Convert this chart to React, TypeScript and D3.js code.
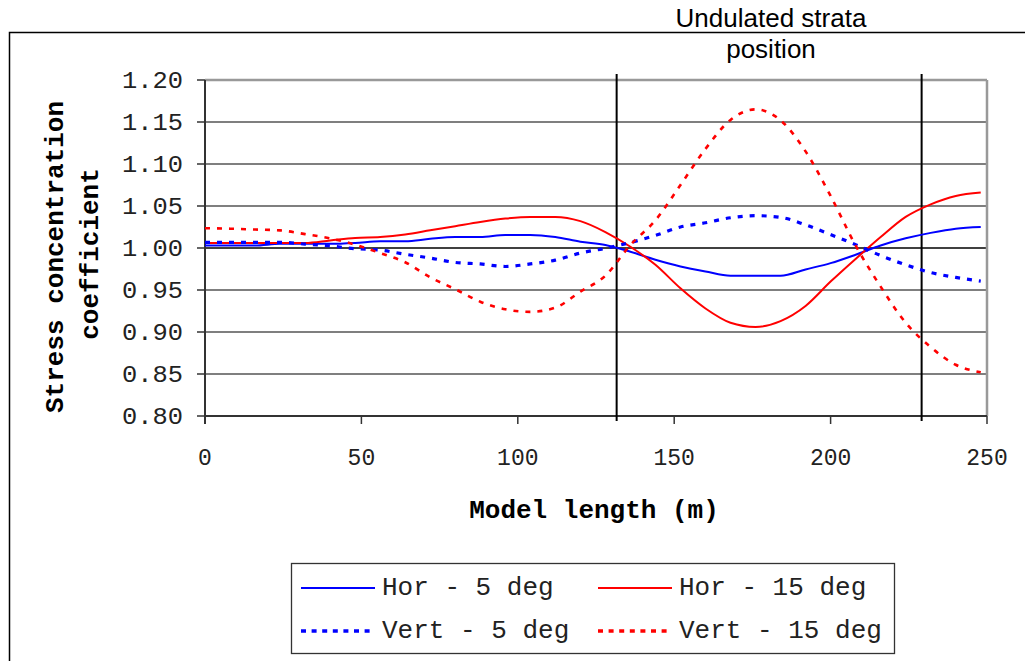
import React from "react";
import * as d3 from "d3";

const xValues = [0, 8, 16, 24, 32, 40, 48, 56, 64, 72, 80, 88, 96, 104, 112, 120, 128, 136, 144, 152, 160, 168, 176, 184, 192, 200, 208, 216, 224, 232, 240, 248];

const hor5 = [1.003, 1.003, 1.003, 1.005, 1.005, 1.005, 1.006, 1.008, 1.008, 1.011, 1.013, 1.013, 1.0155, 1.0155, 1.013, 1.0075, 1.0035, 0.9955, 0.986, 0.978, 0.972, 0.967, 0.967, 0.967, 0.9745, 0.982, 0.992, 1.003, 1.0115, 1.018, 1.023, 1.025];
const hor15 = [1.006, 1.006, 1.006, 1.006, 1.006, 1.009, 1.012, 1.013, 1.016, 1.021, 1.026, 1.031, 1.035, 1.037, 1.037, 1.032, 1.019, 1.0015, 0.98, 0.952, 0.928, 0.911, 0.906, 0.913, 0.931, 0.96, 0.987, 1.013, 1.037, 1.052, 1.062, 1.066];
const vert5 = [1.0067, 1.0067, 1.0067, 1.0067, 1.0047, 1.0024, 0.9992, 0.9975, 0.9925, 0.988, 0.9828, 0.981, 0.978, 0.981, 0.9855, 0.994, 0.9996, 1.0065, 1.015, 1.025, 1.03, 1.036, 1.0385, 1.0365, 1.0275, 1.016, 1.004, 0.991, 0.98, 0.9708, 0.965, 0.9605];
const vert15 = [1.0235, 1.023, 1.022, 1.021, 1.0165, 1.0115, 1.004, 0.994, 0.983, 0.965, 0.951, 0.936, 0.927, 0.924, 0.929, 0.948, 0.967, 1.0036, 1.033, 1.075, 1.118, 1.1525, 1.165, 1.152, 1.115, 1.062, 1.003, 0.954, 0.911, 0.882, 0.861, 0.852];

const xTicks = [0, 50, 100, 150, 200, 250];
const yTicks = [0.8, 0.85, 0.9, 0.95, 1.0, 1.05, 1.1, 1.15, 1.2];
const strataPositions = [131.6, 229.1];

const seriesNames = ["Hor - 5 deg", "Hor - 15 deg", "Vert - 5 deg", "Vert - 15 deg"];
const seriesColors = ["#0000ff", "#ff0000", "#0000ff", "#ff0000"];
const seriesDashed = [false, false, true, true];
const seriesWidths = [2, 2, 3.2, 2.6];
const seriesValues = [hor5, hor15, vert5, vert15];

const mono = "'Liberation Mono', 'Courier New', monospace";

export default function App() {
  const left = 205, right = 987, top = 80, bottom = 416;
  const x = d3.scaleLinear().domain([0, 250]).range([left, right]);
  const y = d3.scaleLinear().domain([0.8, 1.2]).range([bottom, top]);

  const line = d3
    .line<[number, number]>()
    .x((d) => x(d[0]))
    .y((d) => y(d[1]))
    .curve(d3.curveMonotoneX);

  const legendPos = [
    { lx: 301, ly: 588 },
    { lx: 598, ly: 588 },
    { lx: 301, ly: 631 },
    { lx: 598, ly: 631 },
  ];

  return (
    <svg
      width={1025}
      height={661}
      style={{ position: "fixed", left: 0, top: 0, background: "#fff" }}
    >
      <rect x={0} y={0} width={1025} height={661} fill="#fff" />
      {/* outer frame */}
      <rect x={9.5} y={32.5} width={1040} height={700} fill="none" stroke="#000" strokeWidth={1.5} />

      {/* title annotation */}
      <text x={771} y={27} textAnchor="middle" fontFamily="'Liberation Sans', Arial, sans-serif" fontSize={26} fill="#000">
        Undulated strata
      </text>
      <text x={771} y={58} textAnchor="middle" fontFamily="'Liberation Sans', Arial, sans-serif" fontSize={26} fill="#000">
        position
      </text>

      {/* grid lines */}
      {yTicks.map((t) => (
        <line
          key={"g" + t}
          x1={left}
          x2={right}
          y1={y(t)}
          y2={y(t)}
          stroke={t === 1.0 ? "#000" : t === 1.2 ? "#999" : "#555"}
          strokeWidth={t === 1.0 ? 1.3 : t === 1.2 ? 2.5 : 1.5}
        />
      ))}
      {/* right border */}
      <line x1={right} x2={right} y1={top} y2={bottom} stroke="#999" strokeWidth={2.5} />

      {/* axes */}
      <line x1={left} x2={left} y1={top} y2={bottom + 8} stroke="#333" strokeWidth={2} />
      <line x1={left} x2={right} y1={bottom} y2={bottom} stroke="#333" strokeWidth={2} />

      {/* y ticks */}
      {yTicks.map((t) => (
        <g key={"yt" + t}>
          <line x1={left - 8} x2={left} y1={y(t)} y2={y(t)} stroke="#333" strokeWidth={1.5} />
          <text
            x={183}
            y={y(t) + 8}
            textAnchor="end"
            fontFamily={mono}
            fontSize={24}
            fill="#222"
            textLength={61}
            lengthAdjust="spacingAndGlyphs"
          >
            {t.toFixed(2)}
          </text>
        </g>
      ))}

      {/* x ticks */}
      {xTicks.map((t) => (
        <g key={"xt" + t}>
          <line x1={x(t)} x2={x(t)} y1={bottom} y2={bottom + 8} stroke="#333" strokeWidth={1.5} />
          <text
            x={x(t)}
            y={465}
            textAnchor="middle"
            fontFamily={mono}
            fontSize={23}
            fill="#222"
          >
            {String(t)}
          </text>
        </g>
      ))}

      {/* strata position lines */}
      {strataPositions.map((p) => (
        <line key={"s" + p} x1={x(p)} x2={x(p)} y1={74} y2={421} stroke="#000" strokeWidth={2} />
      ))}

      {/* series */}
      {seriesValues.map((vals, i) => {
        const pts: [number, number][] = xValues.map((xv, j) => [xv, vals[j]]);
        return (
          <path
            key={"p" + i}
            d={line(pts) || ""}
            fill="none"
            stroke={seriesColors[i]}
            strokeWidth={seriesWidths[i]}
            strokeDasharray={seriesDashed[i] ? "5 7" : undefined}
          />
        );
      })}

      {/* axis titles */}
      <text
        x={594}
        y={518}
        textAnchor="middle"
        fontFamily={mono}
        fontWeight="bold"
        fontSize={26}
        fill="#000"
      >
        Model length (m)
      </text>
      <text
        transform="translate(63,257) rotate(-90)"
        textAnchor="middle"
        fontFamily={mono}
        fontWeight="bold"
        fontSize={26}
        fill="#000"
      >
        Stress concentration
      </text>
      <text
        transform="translate(98,254) rotate(-90)"
        textAnchor="middle"
        fontFamily={mono}
        fontWeight="bold"
        fontSize={26}
        fill="#000"
      >
        coefficient
      </text>

      {/* legend */}
      <rect x={291.5} y={563.5} width={603} height={90} fill="#fff" stroke="#333" strokeWidth={1.3} />
      {seriesNames.map((name, i) => (
        <g key={"l" + i}>
          <line
            x1={legendPos[i].lx}
            x2={legendPos[i].lx + 74}
            y1={legendPos[i].ly}
            y2={legendPos[i].ly}
            stroke={seriesColors[i]}
            strokeWidth={seriesDashed[i] ? 3.5 : 2}
            strokeDasharray={seriesDashed[i] ? "5 5.6" : undefined}
          />
          <text
            x={legendPos[i].lx + 81}
            y={legendPos[i].ly + 7}
            fontFamily={mono}
            fontSize={26}
            fill="#222"
          >
            {name}
          </text>
        </g>
      ))}
    </svg>
  );
}
